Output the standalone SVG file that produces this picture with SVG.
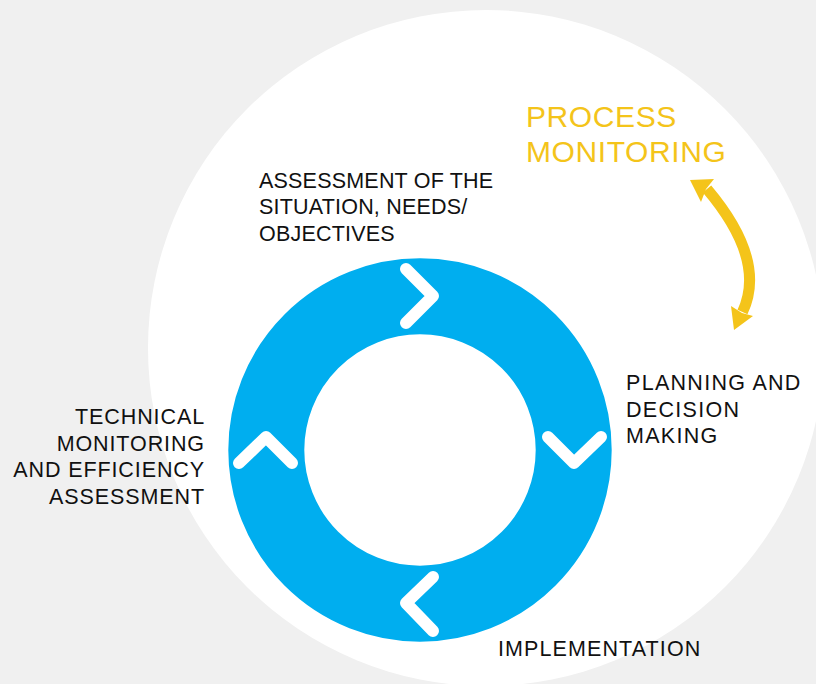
<svg xmlns="http://www.w3.org/2000/svg" width="816" height="684" viewBox="0 0 816 684">
<style>
.lbl{font-family:"Liberation Sans",Arial,sans-serif;font-size:21.5px;fill:#111;}
.yl{font-family:"Liberation Sans",Arial,sans-serif;font-size:30px;fill:#F4C41A;letter-spacing:0.6px;}
.chev{fill:none;stroke:#fff;stroke-width:12;stroke-linecap:round;stroke-linejoin:round;}
</style>
<rect width="816" height="684" fill="#f0f0f0"/>
<circle cx="486" cy="348" r="338" fill="#fff"/>
<g id="cycle">
<circle cx="420" cy="450" r="153.7" fill="none" stroke="#00AEEF" stroke-width="76"/>
<polyline class="chev" points="406,269 433,296 406,323"/>
<polyline class="chev" points="548,437 574,463 601,437"/>
<polyline class="chev" points="433,577 406,603 433,631"/>
<polyline class="chev" points="239,463 266,437 292,463"/>
</g>
<g id="connectors">
<path d="M707,189 Q767,260 742.5,312" fill="none" stroke="#F4C41A" stroke-width="11"/>
<polygon points="690,180 714,179 706,189 701,202" fill="#F4C41A"/>
<polygon points="734,330 731,306 742,313 753,316" fill="#F4C41A"/>
</g>
<g id="process-monitoring">
<text class="yl" x="526" y="126.7">PROCESS</text>
<text class="yl" x="526" y="161.7">MONITORING</text>
</g>
<g id="assessment" style="letter-spacing:0.2px">
<text class="lbl" x="259" y="187.7">ASSESSMENT OF THE</text>
<text class="lbl" x="259" y="214.3">SITUATION, NEEDS/</text>
<text class="lbl" x="259" y="240.5">OBJECTIVES</text>
</g>
<g id="planning" style="letter-spacing:1.3px">
<text class="lbl" x="626" y="390">PLANNING AND</text>
<text class="lbl" x="626" y="416.7">DECISION</text>
<text class="lbl" x="626" y="443.3">MAKING</text>
</g>
<g id="implementation" style="letter-spacing:1.1px">
<text class="lbl" x="498" y="655.7">IMPLEMENTATION</text>
</g>
<g id="technical" text-anchor="end" style="letter-spacing:0.9px">
<text class="lbl" x="205" y="424">TECHNICAL</text>
<text class="lbl" x="205" y="450.7">MONITORING</text>
<text class="lbl" x="205" y="477.3">AND EFFICIENCY</text>
<text class="lbl" x="205" y="504">ASSESSMENT</text>
</g>
</svg>
